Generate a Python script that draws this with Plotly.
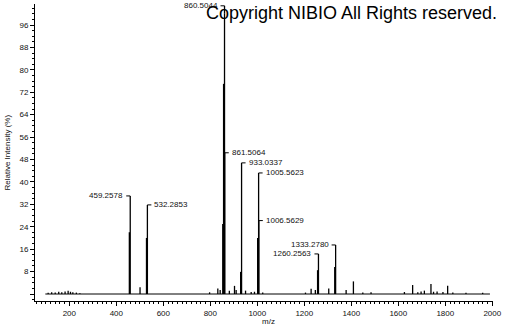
import plotly.graph_objects as go

# ---- data (m/z, relative intensity %) ----
peak_mz = [110, 125, 140, 155, 168, 182, 195, 205, 215, 230, 245,
           455.5, 459.26, 501, 528.5, 532.29,
           797, 832, 842, 853, 856.5, 860.50, 861.51,
           881, 903, 910, 929, 933.03, 950, 974, 988,
           1001.5, 1005.56, 1006.56, 1023,
           1205, 1229, 1247, 1256.5, 1260.26, 1304, 1329.5, 1333.28,
           1378, 1409, 1449, 1484,
           1626, 1661, 1683, 1697, 1711, 1739, 1750, 1765, 1790, 1810, 1832, 1888, 1959]
peak_int = [0.4, 0.6, 0.5, 0.8, 0.6, 0.9, 1.2, 0.8, 0.6, 0.5, 0.3,
            22, 35, 2.4, 20, 31.8,
            0.6, 2.0, 1.4, 25, 75, 100, 50.4,
            1.2, 2.9, 1.4, 7.9, 46.8, 1.2, 0.7, 0.8,
            20, 43.2, 26.2, 0.5,
            0.5, 1.9, 1.4, 8.5, 14.3, 2.0, 9.6, 17.5,
            1.4, 4.5, 0.5, 0.6,
            0.7, 3.2, 0.6, 0.9, 1.2, 3.6, 0.8, 0.9, 0.7, 2.9, 0.5, 0.4, 0.4]
baseline_mz = [98, 1990]

label_mz = [860.50, 861.51, 933.03, 1005.56, 1006.56, 459.26, 532.29, 1260.26, 1333.28]
label_int = [100, 50.4, 46.8, 43.2, 26.2, 35, 31.8, 14.3, 17.5]
label_text = ["860.5044", "861.5064", "933.0337", "1005.5623", "1006.5629",
              "459.2578", "532.2853", "1260.2563", "1333.2780"]
label_side = ["left", "right", "right", "right", "right", "left", "right", "left", "left"]
label_raise = [8, 0, 0, 0, 0, 0, 0, 0, 0]

x_ticks = [200, 400, 600, 800, 1000, 1200, 1400, 1600, 1800, 2000]
y_ticks = [0, 8, 16, 24, 32, 40, 48, 56, 64, 72, 80, 88, 96]

# ---- build stick spectrum ----
sx, sy = [], []
for m, v in zip(peak_mz, peak_int):
    sx += [m, m, None]
    sy += [0, v, None]

FONT = "Liberation Sans, Arial, sans-serif"
fig = go.Figure()
fig.add_trace(go.Scatter(x=baseline_mz, y=[0, 0], mode="lines",
                         line=dict(color="black", width=1), hoverinfo="skip"))
fig.add_trace(go.Scatter(x=sx, y=sy, mode="lines",
                         line=dict(color="black", width=1.3), hoverinfo="skip"))

shapes = []
annotations = []
for m, v, t, side, r in zip(label_mz, label_int, label_text, label_side, label_raise):
    sgn = -1 if side == "left" else 1
    if r:
        shapes.append(dict(type="line", xref="x", yref="y", ysizemode="pixel", yanchor=v,
                           x0=m, x1=m, y0=0, y1=r, line=dict(color="black", width=1.3)))
    shapes.append(dict(type="line", xref="x", yref="y", xsizemode="pixel", xanchor=m,
                       ysizemode="pixel", yanchor=v, x0=0, x1=4 * sgn, y0=r, y1=r,
                       line=dict(color="black", width=1)))
    annotations.append(dict(x=m, y=v, xref="x", yref="y", text=t, showarrow=False,
                            xanchor="right" if side == "left" else "left", yanchor="middle",
                            xshift=5 * sgn, yshift=r,
                            font=dict(family=FONT, size=8, color="#111")))

annotations.append(dict(x=1, y=1, xref="paper", yref="paper", text="Copyright NIBIO All Rights reserved.",
                        showarrow=False, xanchor="right", yanchor="middle", xshift=6, yshift=-9,
                        font=dict(family=FONT, size=18, color="black")))
annotations.append(dict(x=0, y=0.5, xref="paper", yref="paper", text="Relative Intensity (%)",
                        showarrow=False, textangle=-90, xanchor="center", yanchor="middle",
                        xshift=-28, font=dict(family=FONT, size=8, color="#111")))
annotations.append(dict(x=0.5, y=0, xref="paper", yref="paper", text="m/z",
                        showarrow=False, xanchor="center", yanchor="middle",
                        yshift=-20, xshift=4, font=dict(family=FONT, size=8, color="#111")))

fig.update_layout(
    width=505, height=325,
    margin=dict(l=35, r=12, t=4, b=24),
    paper_bgcolor="white", plot_bgcolor="white",
    showlegend=False,
    shapes=shapes, annotations=annotations,
    xaxis=dict(range=[54, 2003], showgrid=False, zeroline=False,
               showline=True, linecolor="black", linewidth=1,
               tickmode="array", tickvals=x_ticks, ticks="outside", ticklen=4,
               tickcolor="black", tickfont=dict(family=FONT, size=8, color="#111"),
               minor=dict(ticks="outside", ticklen=2, dtick=20, tick0=0, tickcolor="black")),
    yaxis=dict(range=[-2.5, 103.5], showgrid=False, zeroline=False,
               showline=True, linecolor="black", linewidth=1,
               tickmode="array", tickvals=y_ticks,
               ticktext=[""] + [str(v) for v in y_ticks[1:]],
               ticks="outside", ticklen=4, tickcolor="black",
               tickfont=dict(family=FONT, size=8, color="#111"),
               minor=dict(ticks="outside", ticklen=2, dtick=2, tick0=0, tickcolor="black")),
)

fig.write_html("out.html")
